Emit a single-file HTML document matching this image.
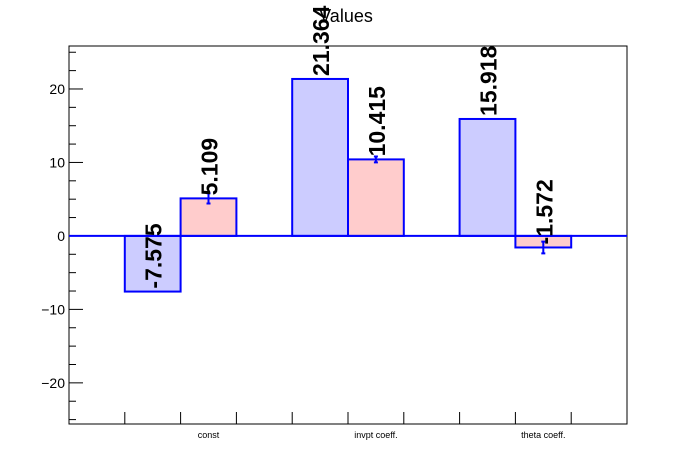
<!DOCTYPE html>
<html><head><meta charset="utf-8"><style>body{margin:0;background:#fff}svg{display:block;font-family:"Liberation Sans",sans-serif}</style></head>
<body>
<svg id="c" width="696" height="472"></svg>
<script>
const categories=["const","invpt coeff.","theta coeff."];
const series1=[-7.575,21.364,15.918];
const series2=[5.109,10.415,-1.572];
const errors2=[0.7,0.4,0.8];
const yTicks=[-20,-10,0,10,20];
const L=69,R=627,T=46,B=424,yMin=-25.6,yMax=25.85,nb=10;
const bw=(R-L)/nb;
const X=i=>L+i*bw;
const Y=v=>B-(v-yMin)/(yMax-yMin)*(B-T);
const s=document.getElementById('c');const NS='http://www.w3.org/2000/svg';
function mk(t,a,txt){const e=document.createElementNS(NS,t);for(const k in a)e.setAttribute(k,a[k]);if(txt!=null)e.textContent=txt;s.appendChild(e);return e;}
let e=mk('rect',{x:L,y:T,width:R-L,height:B-T,fill:'none',stroke:'#000','stroke-width':1});


e=mk('text',{x:346,y:22,'font-size':18,'text-anchor':'middle'},'Values');


for(let v=-25;v<=25;v+=2.5){const maj=v%10===0;e=mk('line',{x1:L,x2:L+(maj?14:7),y1:Y(v),y2:Y(v),stroke:'#000'});

}
yTicks.forEach(v=>{e=mk('text',{x:L-4,y:Y(v)+5,'font-size':14,'text-anchor':'end'},v<0?'\u2212'+(-v):String(v));

});
for(let i=1;i<nb;i++){e=mk('line',{x1:X(i),x2:X(i),y1:B,y2:B-12,stroke:'#000'});

}
categories.forEach((c,i)=>{e=mk('text',{x:X(3*i+2.5),y:438,'font-size':9,'text-anchor':'middle'},c);

});
function bar(bin,v,fill,name){const y0=Y(0),y1=Y(v);e=mk('rect',{x:X(bin),y:Math.min(y0,y1),width:bw,height:Math.abs(y1-y0),fill:fill,stroke:'#0000ff','stroke-width':2});

}
categories.forEach((c,i)=>{bar(3*i+1,series1[i],'#ccccff','bar-series1');bar(3*i+2,series2[i],'#ffcccc','bar-series2');});
e=mk('line',{x1:L,x2:R,y1:Y(0),y2:Y(0),stroke:'#0000ff','stroke-width':2});


categories.forEach((c,i)=>{const cx=X(3*i+2.5),v=series2[i],er=errors2[i];
e=mk('path',{d:`M${cx},${Y(v+er)}V${Y(v-er)}M${cx-2},${Y(v+er)}h4M${cx-2},${Y(v-er)}h4`,stroke:'#0000ff','stroke-width':2,fill:'none'});

});
function lab(bin,v){const cx=X(bin+0.5)+9,y=Y(v)-3;e=mk('text',{x:cx,y:y,'font-size':23,'font-weight':'bold',transform:`rotate(-90 ${cx} ${y})`},v.toFixed(3));

}
categories.forEach((c,i)=>{lab(3*i+1,series1[i]);lab(3*i+2,series2[i]);});
</script>
</body></html>
